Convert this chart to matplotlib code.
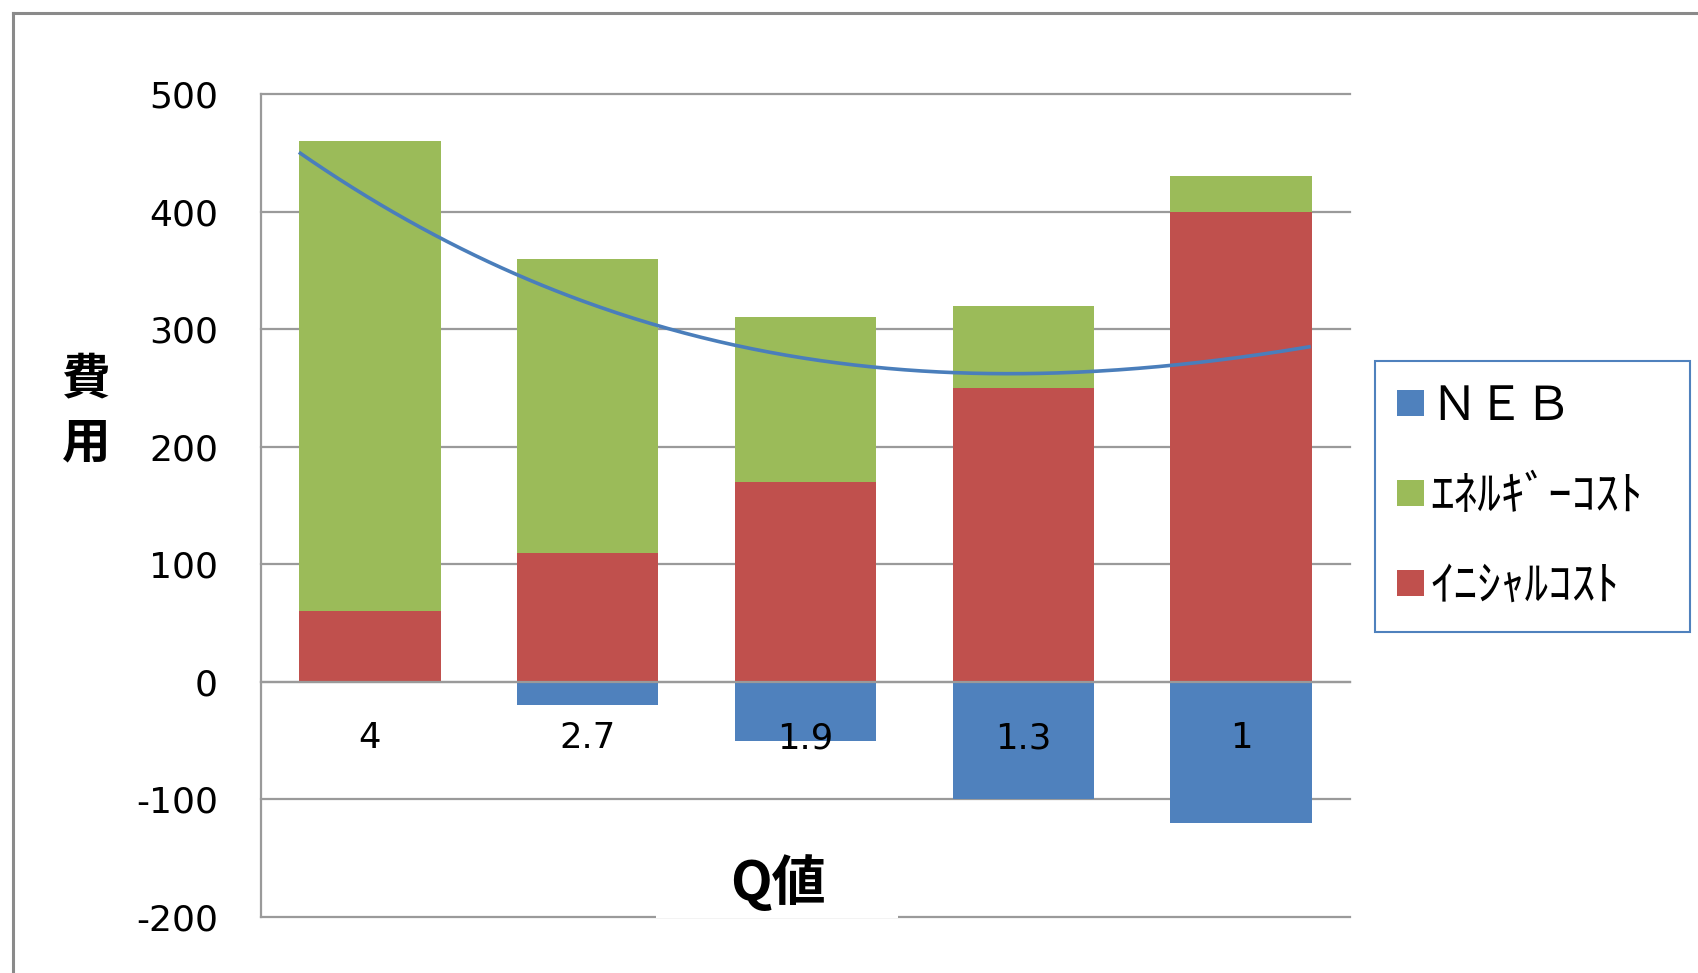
import numpy as np
import matplotlib
matplotlib.use('Agg')
import matplotlib.pyplot as plt
from matplotlib.patches import Rectangle, Patch
from matplotlib.lines import Line2D

# ---------------- data ----------------
categories = ['4', '2.7', '1.9', '1.3', '1']          # Q値
initial_cost = [60, 110, 170, 250, 400]               # イニシャルコスト
energy_cost = [400, 250, 140, 70, 30]                 # エネルギーコスト
neb = [0, -20, -50, -100, -120]                       # NEB
# trendline (category position, value)
trend_x = [-0.326, 0.326, 0.686, 1.323, 1.515, 2.323, 2.674, 3.32, 3.68, 4.32]
trend_y = [447.5, 381.8, 348.3, 300.8, 291, 265, 262, 266.6, 273, 282.5]
yticks = [-200, -100, 0, 100, 200, 300, 400, 500]
legend_labels = ['ＮＥＢ', 'ｴﾈﾙｷﾞｰｺｽﾄ', 'ｲﾆｼｬﾙｺｽﾄ']
xlabel = 'Q値'
ylabel = '費\n用'

# ---------------- style ----------------
W, H = 1698, 973
C_BLUE = '#4F81BD'
C_GREEN = '#9BBB59'
C_RED = '#C0504D'
C_LINE = '#4A7EBB'
C_GRID = '#9a9a9a'
CJK = ['Noto Sans CJK JP', 'DejaVu Sans']

plt.rcParams['font.family'] = ['DejaVu Sans']

fig = plt.figure(figsize=(W / 100, H / 100), dpi=100)
ax = fig.add_axes([261 / W, 1 - 917 / H, (1350 - 261) / W, (917 - 94) / H])

x = np.arange(len(categories))
bw = 0.65
b_neb = ax.bar(x, neb, bw, color=C_BLUE, zorder=2)
b_red = ax.bar(x, initial_cost, bw, color=C_RED, zorder=2)
b_green = ax.bar(x, energy_cost, bw, bottom=initial_cost, color=C_GREEN, zorder=2)

# polynomial trendline through the read points
coef = np.polyfit(trend_x, trend_y, 3)
tx = np.linspace(trend_x[0], trend_x[-1], 300)
ax.plot(tx, np.polyval(coef, tx), color=C_LINE, lw=2.6, zorder=3,
        solid_capstyle='butt')

ax.set_xlim(-0.5, len(categories) - 0.5)
ax.set_ylim(yticks[0], yticks[-1])
ax.set_yticks(yticks)
ax.set_yticklabels([str(v) for v in yticks])
ax.set_xticks(x)
ax.set_xticklabels(categories)

ax.set_axisbelow(True)
ax.yaxis.grid(True, color=C_GRID, lw=1.6)
for gl in ax.get_ygridlines():
    gl.set_clip_on(False)

for s in ['top', 'right']:
    ax.spines[s].set_visible(False)
ax.spines['left'].set_color(C_GRID)
ax.spines['left'].set_linewidth(1.6)
ax.spines['bottom'].set_position(('data', 0))
ax.spines['bottom'].set_color(C_GRID)
ax.spines['bottom'].set_linewidth(1.6)

ax.tick_params(axis='y', length=0, pad=31, labelsize=26, colors='#000000')
ax.tick_params(axis='x', length=0, pad=28.5, labelsize=25.5, colors='#000000')
ax.xaxis.set_zorder(10)

# white patch behind the x-axis title (covers the bottom gridline)
ax.add_patch(Rectangle((656 / W, 1 - 917.5 / H), 242 / W, 70 / H,
                       transform=fig.transFigure, facecolor='white',
                       edgecolor='none', zorder=9, clip_on=False))
ax.set_xlabel(xlabel, family=CJK, fontsize=39, fontweight='bold')
ax.xaxis.set_label_coords((778 - 261) / (1350 - 261), (917 - 884) / (917 - 94))
ax.xaxis.label.set_va('center')

ax.set_ylabel(ylabel, family=CJK, fontsize=35, fontweight='bold',
              rotation=0, linespacing=1.38)
ax.yaxis.set_label_coords((86 - 261) / (1350 - 261), (917 - 411) / (917 - 94))
ax.yaxis.label.set_va('center')
ax.yaxis.label.set_ha('center')

# legend
handles = [b_neb[0], b_green[0], b_red[0]]
leg = fig.legend(handles, legend_labels,
                 bbox_to_anchor=(1375 / W, 1 - 630 / H, 315 / W, 269 / H),
                 bbox_transform=fig.transFigure, loc='upper left', mode='expand',
                 borderaxespad=0,
                 prop={'family': CJK, 'size': 34}, frameon=True, fancybox=False,
                 framealpha=1, edgecolor=C_BLUE, handlelength=0.57, handleheight=0.47,
                 handletextpad=0.15, labelspacing=0.87, borderpad=0.46)
leg.get_frame().set_linewidth(1.5)

# outer chart frame (partially visible)
fig.add_artist(Line2D([13 / W, 1], [1 - 13 / H, 1 - 13 / H], transform=fig.transFigure,
                      color='#8a8a8a', lw=2.2))
fig.add_artist(Line2D([13 / W, 13 / W], [0, 1 - 13 / H], transform=fig.transFigure,
                      color='#8a8a8a', lw=2.2))

fig.savefig('out.png', dpi=100, facecolor='white')
